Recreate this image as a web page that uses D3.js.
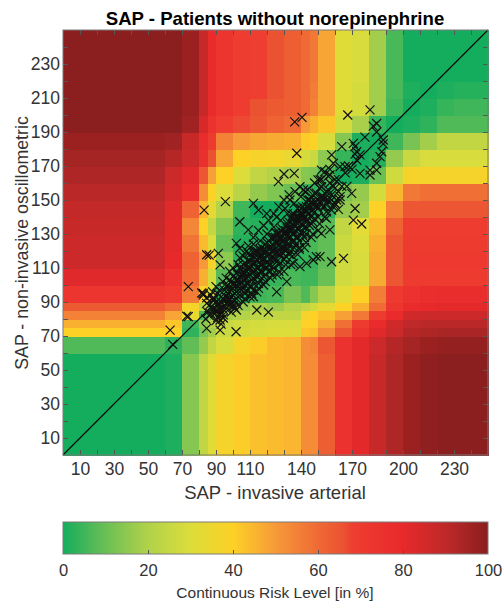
<!DOCTYPE html>
<html><head><meta charset="utf-8">
<script src="https://cdn.jsdelivr.net/npm/d3@7"></script>
<style>
body{margin:0;background:#fff;}
svg{display:block;font-family:"Liberation Sans",Arial,sans-serif;}
</style></head>
<body><svg id="c" width="503" height="601"></svg>
<script>
// ---- data ----
const xEdges = [0,60,70,80,85,90,100,110,120,130,140,145,150,160,170,180,190,200,210,220,230,250];
const yEdges = [0,60,70,75,80,85,90,100,110,120,130,140,150,160,170,180,190,200,210,220,230,250];
// risk values [%], rows from bottom (y 0-60) to top (y 230-250), columns follow xEdges
const riskRows = [
 [0,1,14,24,31,38,41,43,44,45,53,53,63,75,81,88,93,97,99,100,100],
 [7,3,9,16,24,29,37,41,44,45,53,54,65,75,81,87,92,95,97,98,98],
 [40,40,3,12,18,26,28,29,30,30,42,43,53,65,74,82,87,92,93,94,94],
 [46,42,5,15,20,25,27,28,29,29,40,40,47,59,70,79,86,90,91,91,91],
 [55,48,34,6,14,19,21,23,24,24,38,40,43,49,57,70,79,86,87,87,87],
 [64,60,38,22,8,12,16,19,17,21,24,27,33,40,46,60,73,79,80,81,81],
 [73,71,56,40,28,3,2,5,6,12,7,14,21,32,40,56,71,75,77,78,78],
 [82,75,60,46,28,8,0,1,4,6,5,5,10,27,29,47,65,70,70,70,70],
 [87,80,62,50,38,15,3,0,1,3,4,4,9,27,29,47,65,71,71,71,71],
 [87,81,58,44,30,10,2,1,0,1,5,6,9,26,30,46,65,70,70,70,70],
 [88,81,54,40,24,14,3,2,1,0,2,4,8,24,32,44,62,69,69,69,69],
 [89,82,62,45,33,21,5,0,0,0,0,1,3,16,18,40,55,65,65,65,65],
 [91,85,78,53,40,30,22,16,13,10,4,3,2,12,16,28,45,57,59,59,59],
 [93,87,82,65,49,40,30,24,21,19,14,13,7,0,1,10,27,38,38,38,38],
 [95,92,87,76,66,48,40,38,37,34,28,26,15,4,0,2,16,25,29,29,29],
 [97,96,88,78,70,55,50,48,47,46,41,40,29,14,1,0,5,12,18,24,24],
 [100,100,96,84,75,69,67,65,62,60,50,46,42,28,19,4,0,1,3,7,7],
 [100,100,97,88,79,73,69,66,64,63,60,55,48,31,28,18,5,0,1,4,5],
 [100,100,97,88,79,73,69,68,66,63,60,56,48,31,28,18,6,1,0,1,2],
 [100,100,97,88,79,73,69,68,66,63,60,57,48,31,29,18,6,0,0,0,0],
 [100,100,97,88,79,73,69,68,66,63,60,57,48,31,29,18,6,0,0,0,0]
];
// measurements: [invasive arterial SAP, non-invasive oscillometric SAP]
const patients = [
 [83,144],[95.5,149],[136.3,196],[140.6,198.6],[137.5,177.5],[136,165.7],[130,165.3],[126.7,160.8],
 [167.5,200],[180.6,203],[182.5,193.5],[184.5,190],[177.6,187],[188.4,185.3],[187.5,178.4],[164,181.4],
 [171.8,181.4],[171.8,177],[174.7,176.5],[172.8,173.5],[158,176.5],[159,171.6],[165.9,169.6],[154,166.7],
 [157,164.7],[184.5,171.6],[184.5,167.6],[180.6,164.7],[174.7,165.7],[169.8,153.9],[171.8,145],[170.8,138.2],
 [175.7,135.9],[163,150],[160,148],[162,144.5],[150,161.8],[152,157.8],[148,153.9],[139.4,157.8],
 [136.5,154.9],[142.4,154.9],[133.5,150],[146.3,149],[149.2,146],[112,148],[115,144],[104,137.2],
 [109,132.4],[119.8,142],[125.7,140],[130.6,145],[135.5,142],[140.4,142],[143.3,146],[131.6,134.3],
 [155,139.2],[157,132.4],[152,130.4],[86,117.6],[91.4,118.6],[92.4,111.8],[73.7,99],[73.7,81.4],
 [63,73.5],[64.5,65.1],[84.5,74.5],[92.4,73.5],[101.8,72.5],[92.4,79.4],[94.3,82.4],[89.4,83.3],
 [82.5,94],[84.5,89.2],[88.4,91.2],[114,85.3],[120.8,84],[102,85.3],[100.2,87.3],[112,93.1],
 [125.7,96],[131.6,102],[147.2,114.7],[151.2,116.7],[158,113.7],[165,115.7],[139.4,110.8],[135.5,112.7],
 [149,116.7],[143.3,112.7],[184.5,195],[188.4,183],[186.5,175.5],[180.6,167.6],[170.8,183.3],[172.8,178.4],
 [152,167.6],[163,169.6],[141.4,155.9],[151.2,161.8],[153,151],[161,150],[84.5,117.8],[81.6,95.3],
 [84.5,92.4],[90.4,85.5],[92.4,82.5],[94.3,80.6],[101,86.5],[72.8,81.6],[82.5,95],[102,124.5],
 [104,121.6],[109,118.6],[86,88],[88,92],[89,86],[90,90],[91,95],[92,89],[93,84],[94,92],[95,97],
 [95,88],[96,93],[97,100],[97,90],[98,96],[99,102],[99,93],[100,98],[100,105],[101,95],[101,91],
 [102,100],[102,107],[103,97],[103,103],[104,110],[104,94],[105,101],[105,106],[106,98],[106,112],
 [107,104],[107,95],[108,108],[108,101],[109,114],[109,105],[110,99],[110,110],[110,118],[111,103],
 [111,107],[112,113],[112,97],[113,109],[113,120],[114,105],[114,115],[115,110],[115,101],[116,117],
 [116,108],[117,122],[117,112],[118,105],[118,115],[119,119],[119,110],[120,125],[120,114],[121,108],
 [121,118],[122,122],[122,112],[123,128],[123,116],[124,110],[124,120],[125,125],[125,115],[126,130],
 [126,119],[127,112],[127,123],[128,127],[128,118],[129,133],[129,122],[130,115],[130,126],[131,130],
 [131,120],[132,136],[132,124],[133,128],[133,118],[134,132],[134,139],[135,125],[135,130],[136,135],
 [136,122],[137,140],[137,128],[138,133],[138,145],[139,126],[139,137],[140,141],[140,131],[141,146],
 [141,135],[142,128],[142,140],[143,144],[143,134],[144,150],[144,138],[145,142],[145,147],[146,136],
 [146,152],[147,144],[148,149],[148,139],[149,154],[150,145],[150,150],[151,157],[152,148],[153,152],
 [154,146],[155,155],[156,150],[157,160],[158,153],[160,157],[162,162],[164,158],[166,166],[168,170],
 [170,168],[84,80],[87,83],[90,79],[92,97],[94,102],[96,86],[98,108],[100,88],[102,92],[104,116],
 [106,90],[108,120],[110,93],[112,124],[114,96],[116,126],[118,100],[120,130],[122,104],[124,134],
 [126,106],[128,138],[130,108],[132,142],[134,112],[136,148],[138,118],[140,152],[142,122],[144,156],
 [146,128],[148,160],[150,132],[152,162],[154,140],[156,164],[158,144],[160,148],[163,152],[167,158],
 [101,101],[103,99],[105,104],[107,109],[109,107],[111,111],[113,113],[115,116],[117,118],[119,121],
 [121,121],[123,124],[125,128],[127,127],[129,129],[131,132],[133,134],[135,136],[137,137],[139,140],
 [141,142],[143,143],[145,145],[108,112],[112,104],[116,121],[120,110],[124,128],[128,122],[132,129],[136,131],
 [96,99],[97,95],[98,92],[99,97],[100,94],[100,101],[101,99],[102,96],[102,103],[103,106],[104,100],
 [104,105],[105,97],[105,109],[106,103],[106,107],[107,100],[107,113],[108,104],[108,97],[109,110],
 [109,101],[110,106],[110,114],[111,99],[111,116],[112,108],[112,119],[113,103],[113,116],[114,110],
 [114,120],[115,106],[115,119],[116,112],[116,103],[117,115],[117,108],[118,121],[118,111],[119,106],
 [119,124],[120,117],[120,120],[121,112],[121,126],[122,115],[122,108],[123,120],[123,111],[124,123],
 [124,116],[125,119],[125,131],[126,114],[126,124],[127,118],[127,130],[128,113],[128,132],[129,119],
 [129,126],[130,122],[130,130],[131,125],[131,117],[132,121],[132,133],[133,124],[133,137],[134,128],
 [134,120],[135,133],[135,141],[136,126],[136,139],[137,132],[137,124],[138,128],[138,140],[139,133],
 [139,122],[140,136],[140,145],[141,130],[141,139],[142,134],[142,145],[143,138],[143,130],[144,142],
 [145,135],[145,150],[146,140],[147,147],[147,137],[148,143],[149,147],[150,140],[151,149],[152,152],
 [153,146],[154,151],[155,148],[156,156],[158,150],[159,158],[88,86],[89,92],[90,84],[91,88],[92,86],
 [93,90],[94,86],[95,91],[96,89],[97,92],[98,88],[99,90],[88,96],[90,99],[87,94],[85,84],[86,82],
 [91,81],[93,77],[98,103],[100,110],[103,112],[106,117],[109,123],[112,128],[115,132],[118,135],
 [121,138],[124,142],[127,146],[130,150],[133,153],[96,104],[99,84],[103,88],[107,92],[111,95],
 [115,98],[119,102],[123,106],[127,108],[131,112],[135,117],[139,121],[143,125],[147,130],[151,136],
 [155,143],[159,146],[160,162],[157,168],[162,155]
];
const xTickLabels = [10,30,50,70,90,110,140,170,200,230];
const yTickLabels = [10,30,50,70,90,110,130,150,170,190,210,230];
const cbTickLabels = [0,20,40,60,80,100];
const riskStops = [0,10,20,30,40,50,60,66,68,80,90,100];
const riskColors = ["#14ad5e","#6abf55","#b1d24a","#dcdd3a","#fdd126","#f69a39","#ef6a35","#eb5231","#ee3e31","#e8292b","#bf2929","#8b1e1e"];

// ---- drawing ----
const svg = d3.select("#c");
const L=63,R=488,T=30,B=455;
const x = d3.scaleLinear().domain([0,250]).range([L,R]);
const y = d3.scaleLinear().domain([0,250]).range([B,T]);
const color = d3.scaleLinear().domain(riskStops).range(riskColors).clamp(true);

svg.append("text").attr("x",275).attr("y",25).attr("text-anchor","middle")
  .attr("font-weight","bold").attr("font-size",18.6).attr("fill","#000")
  .text("SAP - Patients without norepinephrine");

const cells=[];
riskRows.forEach((row,ri)=>row.forEach((v,ci)=>cells.push({ri,ci,v})));
svg.append("g").attr("shape-rendering","crispEdges").selectAll("rect").data(cells).join("rect")
  .attr("x",d=>x(xEdges[d.ci]))
  .attr("y",d=>y(yEdges[d.ri+1]))
  .attr("width",d=>x(xEdges[d.ci+1])-x(xEdges[d.ci])+0.5)
  .attr("height",d=>y(yEdges[d.ri])-y(yEdges[d.ri+1])+0.5)
  .attr("fill",d=>color(d.v));

svg.append("line").attr("x1",x(0)).attr("y1",y(0)).attr("x2",x(250)).attr("y2",y(250))
  .attr("stroke","#000").attr("stroke-width",1.1);

svg.append("g").selectAll("path").data(patients).join("path")
  .attr("transform",d=>`translate(${x(d[0])},${y(d[1])})`)
  .attr("d","M-4.5,-4.5L4.5,4.5M-4.5,4.5L4.5,-4.5").attr("stroke","#111").attr("stroke-width",1.2).attr("fill","none");

// tick marks (inside) on all four sides
const minor = d3.range(10,250,10);
const tickStyle = g=>{g.select(".domain").remove();g.selectAll(".tick line").attr("stroke","#555");};
svg.append("g").attr("transform",`translate(0,${B})`).call(d3.axisBottom(x).tickValues(minor).tickSize(-5).tickFormat("")).call(tickStyle);
svg.append("g").attr("transform",`translate(0,${T})`).call(d3.axisTop(x).tickValues(minor).tickSize(-5).tickFormat("")).call(tickStyle);
svg.append("g").attr("transform",`translate(${L},0)`).call(d3.axisLeft(y).tickValues(minor).tickSize(-5).tickFormat("")).call(tickStyle);
svg.append("g").attr("transform",`translate(${R},0)`).call(d3.axisRight(y).tickValues(minor).tickSize(-5).tickFormat("")).call(tickStyle);

svg.append("rect").attr("x",L).attr("y",T).attr("width",R-L).attr("height",B-T)
  .attr("fill","none").attr("stroke","#7a7a7a").attr("stroke-width",1);

// tick labels
const lab = (fs)=>g=>{g.select(".domain").remove();g.selectAll(".tick line").remove();
  g.selectAll("text").attr("font-size",fs).attr("fill","#333").attr("font-family","Liberation Sans, Arial, sans-serif");};
svg.append("g").attr("transform",`translate(0,${B})`).call(d3.axisBottom(x).tickValues(xTickLabels).tickSize(0).tickPadding(8)).call(lab(17.5));
svg.append("g").attr("transform",`translate(${L},0)`).call(d3.axisLeft(y).tickValues(yTickLabels).tickSize(0).tickPadding(3)).call(lab(17.5));

svg.append("text").attr("x",275).attr("y",499).attr("text-anchor","middle").attr("font-size",18.5).attr("fill","#333")
  .text("SAP - invasive arterial");
svg.append("text").attr("transform","translate(28,243) rotate(-90)").attr("text-anchor","middle").attr("font-size",17.8).attr("fill","#333")
  .text("SAP - non-invasive oscillometric");

// colorbar
const cb = d3.scaleLinear().domain([0,100]).range([L,R]);
const grad = svg.append("defs").append("linearGradient").attr("id","cbg").attr("x1","0%").attr("x2","100%");
grad.selectAll("stop").data(d3.range(0,101,1)).join("stop")
  .attr("offset",d=>d+"%").attr("stop-color",d=>color(d));
svg.append("rect").attr("x",cb(0)).attr("y",522).attr("width",cb(100)-cb(0)).attr("height",32)
  .attr("fill","url(#cbg)").attr("stroke","#7a7a7a");
svg.append("g").attr("transform","translate(0,554)").call(d3.axisBottom(cb).tickValues([20,40,60,80]).tickSize(-4).tickFormat("")).call(tickStyle);
svg.append("g").attr("transform","translate(0,560)").call(d3.axisBottom(cb).tickValues(cbTickLabels).tickSize(0).tickPadding(4)).call(lab(16.5));
svg.append("text").attr("x",275).attr("y",598).attr("text-anchor","middle").attr("font-size",15.5).attr("fill","#333")
  .text("Continuous Risk Level [in %]");
</script></body></html>
